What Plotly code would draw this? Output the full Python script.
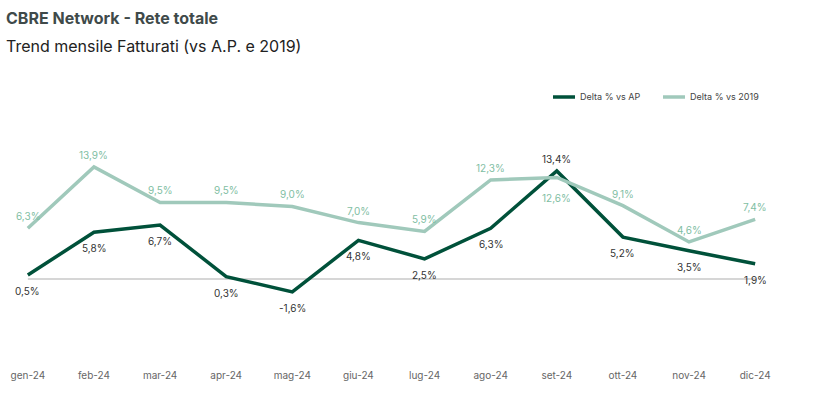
import plotly.graph_objects as go

months = ["gen-24", "feb-24", "mar-24", "apr-24", "mag-24", "giu-24",
          "lug-24", "ago-24", "set-24", "ott-24", "nov-24", "dic-24"]
delta_ap = [0.5, 5.8, 6.7, 0.3, -1.6, 4.8, 2.5, 6.3, 13.4, 5.2, 3.5, 1.9]
delta_2019 = [6.3, 13.9, 9.5, 9.5, 9.0, 7.0, 5.9, 12.3, 12.6, 9.1, 4.6, 7.4]
series_names = ["Delta % vs AP", "Delta % vs 2019"]

# label placement: +1 above the point, -1 below
ap_side = [-1] * 12
ap_side[8] = 1
y19_side = [1] * 12
y19_side[8] = -1

def fmt(v):
    return f"{v:.1f}%".replace(".", ",")

FONT = "Inter"
DARK = "#00513a"
LIGHT = "#a0c9bb"
LIGHT_TXT = "#7fbea3"

W, H = 840, 410
ML, MR, MT, MB = 8, 65, 110, 45
plot_h = H - MT - MB
plot_w = W - ML - MR

def py(yp):
    return (H - MB - yp) / plot_h

def px(xp):
    return (xp - ML) / plot_w

def shift(side, extra=0):
    return 12 if side > 0 else -16 - extra

x_idx = list(range(len(months)))

fig = go.Figure()
fig.add_trace(go.Scatter(
    x=x_idx, y=delta_ap, mode="lines", name=series_names[0],
    line=dict(color=DARK, width=3.5), showlegend=False,
))
fig.add_trace(go.Scatter(
    x=x_idx, y=delta_2019, mode="lines", name=series_names[1],
    line=dict(color=LIGHT, width=3.5), showlegend=False,
))

fig.add_shape(type="line", xref="x", yref="y", x0=0, x1=len(months) - 1,
              y0=0, y1=0, line=dict(color="#c8c8c8", width=1.5), layer="below")

annotations = []
for i, v in enumerate(delta_ap):
    annotations.append(dict(x=i, y=v, xref="x", yref="y", text=fmt(v), showarrow=False,
                            yshift=shift(ap_side[i]),
                            font=dict(family=FONT, size=10, color="#333333")))
for i, v in enumerate(delta_2019):
    annotations.append(dict(x=i, y=v, xref="x", yref="y", text=fmt(v), showarrow=False,
                            yshift=shift(y19_side[i], extra=5),
                            font=dict(family=FONT, size=10, color=LIGHT_TXT)))

annotations.append(dict(text="<b>CBRE Network - Rete totale</b>", xref="paper", yref="paper",
                        x=px(4), y=py(18), xanchor="left", yanchor="middle", showarrow=False,
                        font=dict(family=FONT, size=16, color="#3f4a4a")))
annotations.append(dict(text="Trend mensile Fatturati (vs A.P. e 2019)", xref="paper", yref="paper",
                        x=px(4), y=py(46), xanchor="left", yanchor="middle", showarrow=False,
                        font=dict(family=FONT, size=16, color="#222222")))

# custom legend
legend_items = [(series_names[0], DARK, 553), (series_names[1], LIGHT, 663)]
for name, col, x0 in legend_items:
    fig.add_shape(type="line", xref="paper", yref="paper",
                  x0=px(x0), x1=px(x0 + 22), y0=py(97), y1=py(97),
                  line=dict(color=col, width=3.5))
    annotations.append(dict(text=name, xref="paper", yref="paper", x=px(x0 + 25), y=py(97),
                            xanchor="left", yanchor="middle", showarrow=False,
                            font=dict(family=FONT, size=9, color="#444444")))

fig.update_layout(
    width=W, height=H,
    paper_bgcolor="white", plot_bgcolor="white",
    margin=dict(l=ML, r=MR, t=MT, b=MB),
    font=dict(family=FONT, color="#555555"),
    showlegend=False,
    xaxis=dict(range=[-0.3, 11.3], tickmode="array", tickvals=x_idx, ticktext=months,
               showgrid=False, zeroline=False, showline=False, ticklabelstandoff=3,
               tickfont=dict(family=FONT, size=10, color="#666666"), ticks=""),
    yaxis=dict(range=[-10.67, 20.97], visible=False, showgrid=False, zeroline=False),
    annotations=annotations,
)

fig.write_html("out.html")
